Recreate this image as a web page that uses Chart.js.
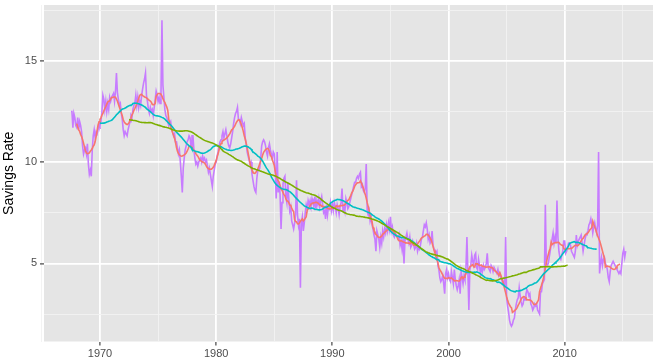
<!DOCTYPE html>
<html>
<head>
<meta charset="utf-8">
<script src="https://cdn.jsdelivr.net/npm/chart.js@4.4.1/dist/chart.umd.min.js"></script>
<style>
  html, body { margin: 0; padding: 0; background: #ffffff; }
  #wrap { width: 666px; height: 358px; }
</style>
</head>
<body>
<div id="wrap"><canvas id="savingsChart" width="666" height="358"></canvas></div>
<script>
//----------------------------------------------------------------------//
//------------------------------- Data ---------------------------------//
//----------------------------------------------------------------------//
// personal savings rate, monthly, first value is July 1967
var startYear = 1967;
var startMonth = 7;
var savingsRate = [
    12.5, 12.5, 11.7, 12.4, 12.2, 11.8,
    11.7, 12.2, 11.6, 12.0, 11.8, 11.5, 10.8, 10.4, 10.6, 10.7, 10.4, 10.9,
    9.9, 9.4, 9.6, 9.3, 10.6, 11.3, 11.6, 11.2, 11.5, 11.4, 11.6, 11.9,
    11.8, 12.0, 12.5, 13.3, 13.1, 12.6, 13.0, 12.5, 12.9, 12.6, 13.2, 13.0,
    13.2, 13.3, 13.4, 13.0, 13.5, 14.4, 13.4, 13.1, 12.8, 12.9, 12.4, 12.1,
    11.6, 11.3, 11.5, 11.4, 11.3, 11.6, 11.8, 12.0, 12.3, 12.2, 12.6, 12.8,
    12.9, 13.3, 12.8, 13.2, 12.7, 13.0, 12.8, 13.3, 13.6, 13.9, 14.1, 14.4,
    13.3, 13.0, 12.6, 12.4, 12.7, 12.5, 12.6, 12.3, 12.7, 13.1, 13.5, 13.3,
    13.0, 13.2, 12.9, 13.4, 17.0, 13.8, 13.2, 12.6, 12.3, 12.2, 12.0, 11.8,
    11.9, 12.0, 11.6, 11.5, 11.3, 11.4, 11.0, 11.0, 10.7, 10.4, 10.6, 10.0,
    9.3, 8.5, 9.7, 10.2, 10.6, 10.8, 11.0, 11.1, 11.3, 11.2, 10.8, 11.3,
    11.3, 10.6, 10.2, 9.9, 10.0, 9.8, 10.0, 10.1, 10.2, 10.0, 10.3, 10.1,
    10.2, 10.0, 10.1, 9.8, 9.5, 9.7, 9.4, 9.1, 8.8, 9.3, 9.6, 9.9,
    10.0, 10.3, 10.5, 10.8, 11.0, 11.1, 11.3, 11.5, 11.2, 11.4, 11.6, 11.3,
    11.0, 10.8, 10.7, 10.9, 11.2, 11.5, 11.9, 12.2, 12.4, 12.5, 12.7, 12.1,
    12.1, 11.9, 12.2, 12.0, 11.8, 11.9, 11.2, 10.9, 10.5, 10.3, 10.1, 9.9,
    10.0, 9.4, 9.1, 8.8, 8.6, 8.5, 9.2, 9.6, 9.6, 9.7, 10.2, 10.8,
    11.0, 11.1, 11.0, 10.8, 10.5, 10.3, 10.7, 10.9, 10.6, 10.4, 10.2, 10.5,
    10.4, 9.6, 8.2, 10.5, 8.5, 9.0, 8.4, 6.7, 8.0, 8.9, 9.2, 9.3,
    8.3, 8.0, 9.0, 8.2, 7.6, 7.8, 7.1, 6.9, 6.7, 7.0, 7.4, 9.1,
    7.4, 6.9, 7.2, 3.8, 7.0, 7.3, 6.6, 7.0, 7.5, 7.9, 7.7, 8.1,
    7.9, 8.1, 7.8, 8.2, 8.0, 7.8, 8.3, 7.7, 8.1, 7.9, 8.2, 7.8,
    8.1, 8.3, 7.9, 7.5, 7.6, 7.2, 7.9, 7.4, 7.8, 7.7, 8.0, 7.6,
    7.9, 7.6, 8.0, 7.8, 7.5, 7.9, 7.7, 7.4, 7.8, 8.0, 8.7, 7.6,
    7.9, 7.6, 8.2, 8.0, 7.7, 7.8, 8.0, 8.2, 8.4, 8.6, 8.8, 9.0,
    9.0, 9.2, 9.3, 9.2, 9.4, 9.5, 8.8, 8.9, 8.6, 8.5, 8.7, 9.9,
    7.6, 7.4, 7.6, 7.1, 7.3, 6.9, 6.7, 6.4, 6.2, 5.6, 6.6, 6.4,
    6.2, 5.8, 6.3, 6.0, 6.6, 6.3, 6.7, 6.5, 6.9, 6.6, 7.0, 6.7,
    7.3, 6.6, 6.8, 6.4, 6.3, 6.5, 6.4, 6.3, 6.2, 6.4, 5.9, 6.1,
    5.7, 6.2, 5.0, 6.1, 6.3, 6.5, 6.2, 6.0, 6.3, 5.8, 5.9, 6.1,
    5.9, 5.7, 5.8, 6.0, 5.6, 5.8, 5.7, 5.9, 6.2, 6.3, 6.6, 6.9,
    6.8, 7.0, 6.7, 6.2, 6.4, 6.0, 6.1, 6.6, 5.9, 5.7, 5.6, 5.5,
    5.6, 4.9, 4.7, 4.3, 4.1, 4.2, 4.4, 4.0, 3.5, 4.5, 4.7, 4.3,
    4.5, 4.2, 4.1, 4.6, 4.3, 4.0, 4.7, 4.2, 3.9, 3.7, 3.9, 4.2,
    3.5, 4.6, 4.3, 4.0, 4.4, 4.2, 4.8, 6.3, 4.6, 2.7, 4.7, 4.9,
    5.4, 5.1, 4.9, 5.4, 5.5, 4.8, 4.7, 5.2, 4.9, 4.5, 4.8, 4.6,
    4.9, 4.7, 4.8, 5.0, 5.5, 4.8, 4.7, 4.6, 4.9, 4.8, 4.6, 4.8,
    4.8, 4.6, 4.5, 4.7, 4.4, 4.5, 4.3, 4.2, 4.0, 4.1, 3.8, 6.3,
    3.3, 2.9, 2.6, 2.2, 2.0, 1.9, 2.0, 2.2, 2.3, 2.7, 3.0, 3.2,
    3.3, 3.8, 3.4, 3.1, 2.9, 3.0, 3.3, 3.2, 3.5, 3.7, 3.6, 3.4,
    3.5, 3.0, 2.9, 2.7, 2.8, 3.0, 2.9, 3.0, 2.7, 2.6, 2.5, 3.6,
    3.6, 4.0, 4.1, 4.2, 7.9, 5.0, 4.9, 5.0, 5.3, 5.6, 5.9, 6.2,
    6.5, 6.0, 6.3, 6.0, 8.1, 6.3, 5.6, 5.3, 5.2, 5.4, 5.6, 6.1,
    6.1, 5.5, 5.6, 5.8, 6.0, 6.0, 5.9, 5.6, 5.5, 5.4, 5.3, 5.6,
    6.4, 5.9, 6.1, 6.2, 6.3, 6.4, 6.0, 5.6, 5.9, 6.2, 6.4, 6.5,
    6.6, 6.9, 7.0, 7.2, 6.9, 6.5, 6.8, 7.0, 6.7, 6.5, 6.9, 10.5,
    4.5, 5.0, 5.3, 4.9, 5.2, 5.3, 5.0, 4.9, 4.7, 4.3, 4.1, 4.6,
    4.9, 5.0, 5.1, 5.0, 4.9, 4.8, 4.7, 4.6, 4.5, 4.6, 4.5, 5.0,
    5.5, 5.7, 5.3, 5.6
];
// moving average windows (months): 1 year, 5 years, 10 years
var maWindows = [13, 61, 121];
var xTickValues = [1965, 1970, 1975, 1980, 1985, 1990, 1995, 2000, 2005, 2010, 2015];
var yTickValues = [2.5, 5, 7.5, 10, 12.5, 15, 17.5];
var xRange = [1965.18, 2017.6];
var yRange = [1.145, 17.755];

//----------------------------------------------------------------------//
//----------------------------- Helpers --------------------------------//
//----------------------------------------------------------------------//
function monthToYear(i) {
    return startYear + (startMonth - 1) / 12 + i / 12;
}

function rawPoints(values) {
    var pts = [];
    for (var i = 0; i < values.length; i++) {
        pts.push({ x: monthToYear(i), y: values[i] });
    }
    return pts;
}

// centred moving average, only where the window is full
function rollingMean(values, k) {
    var half = (k - 1) / 2;
    var pts = [];
    for (var i = half; i < values.length - half; i++) {
        var sum = 0;
        for (var j = i - half; j <= i + half; j++) {
            sum += values[j];
        }
        pts.push({ x: monthToYear(i), y: sum / k });
    }
    return pts;
}

// grey panel behind the plot
var panelBackground = {
    id: 'panelBackground',
    beforeDraw: function (chart) {
        var a = chart.chartArea;
        var c = chart.ctx;
        c.save();
        c.fillStyle = '#E5E5E5';
        c.fillRect(a.left, a.top, a.right - a.left, a.bottom - a.top);
        c.restore();
    }
};

var fontFamily = "'Liberation Sans', Arial, Helvetica, sans-serif";

function isMajor(value, step) {
    return Math.abs(value / step - Math.round(value / step)) < 1e-6;
}

// no extra room for the outer tick labels
function noEdgePadding(scale) {
    scale.paddingTop = 0;
    scale.paddingBottom = 0;
    scale.paddingLeft = 0;
    scale.paddingRight = 0;
}

//----------------------------------------------------------------------//
//------------------------------ Chart ---------------------------------//
//----------------------------------------------------------------------//
var lineStyle = { pointRadius: 0, borderWidth: 1.6, tension: 0, fill: false };

var savingsChart = new Chart(document.getElementById('savingsChart'), {
    type: 'line',
    data: {
        datasets: [
            Object.assign({ data: rawPoints(savingsRate), borderColor: '#C77CFF', order: 4 }, lineStyle),
            Object.assign({ data: rollingMean(savingsRate, maWindows[0]), borderColor: '#F8766D', order: 3 }, lineStyle),
            Object.assign({ data: rollingMean(savingsRate, maWindows[1]), borderColor: '#00BFC4', order: 2 }, lineStyle),
            Object.assign({ data: rollingMean(savingsRate, maWindows[2]), borderColor: '#7CAE00', order: 1 }, lineStyle)
        ]
    },
    options: {
        responsive: false,
        animation: false,
        devicePixelRatio: 1,
        layout: { padding: { top: 5, right: 13, left: 0, bottom: 0 } },
        plugins: {
            legend: { display: false },
            tooltip: { enabled: false }
        },
        scales: {
            x: {
                type: 'linear',
                min: xRange[0],
                max: xRange[1],
                afterBuildTicks: function (scale) {
                    scale.ticks = xTickValues.map(function (v) { return { value: v }; });
                },
                afterFit: function (scale) { scale.height = 16.5; noEdgePadding(scale); },
                border: { display: false },
                grid: {
                    color: function (ctx) { return isMajor(ctx.tick.value, 10) ? '#FFFFFF' : '#F2F2F2'; },
                    lineWidth: function (ctx) { return isMajor(ctx.tick.value, 10) ? 1.8 : 0.9; },
                    tickColor: function (ctx) { return isMajor(ctx.tick.value, 10) ? '#333333' : 'rgba(0,0,0,0)'; },
                    tickLength: 4,
                    tickWidth: 1.1
                },
                ticks: {
                    autoSkip: false,
                    maxRotation: 0,
                    padding: 2,
                    color: '#4D4D4D',
                    font: { family: fontFamily, size: 11 },
                    callback: function (v) { return isMajor(v, 10) ? String(v) : ''; }
                }
            },
            y: {
                type: 'linear',
                min: yRange[0],
                max: yRange[1],
                afterBuildTicks: function (scale) {
                    scale.ticks = yTickValues.map(function (v) { return { value: v }; });
                },
                afterFit: function (scale) { scale.width = 44; noEdgePadding(scale); },
                border: { display: false },
                grid: {
                    color: function (ctx) { return isMajor(ctx.tick.value, 5) ? '#FFFFFF' : '#F2F2F2'; },
                    lineWidth: function (ctx) { return isMajor(ctx.tick.value, 5) ? 1.8 : 0.9; },
                    tickColor: function (ctx) { return isMajor(ctx.tick.value, 5) ? '#333333' : 'rgba(0,0,0,0)'; },
                    tickLength: 4,
                    tickWidth: 1.1
                },
                ticks: {
                    autoSkip: false,
                    padding: 3,
                    color: '#4D4D4D',
                    font: { family: fontFamily, size: 11 },
                    callback: function (v) { return isMajor(v, 5) ? String(v) : ''; }
                },
                title: {
                    display: true,
                    text: 'Savings Rate',
                    color: '#000000',
                    font: { family: fontFamily, size: 14 },
                    padding: { top: 1, bottom: 0 }
                }
            }
        }
    },
    plugins: [panelBackground]
});
</script>
</body>
</html>
